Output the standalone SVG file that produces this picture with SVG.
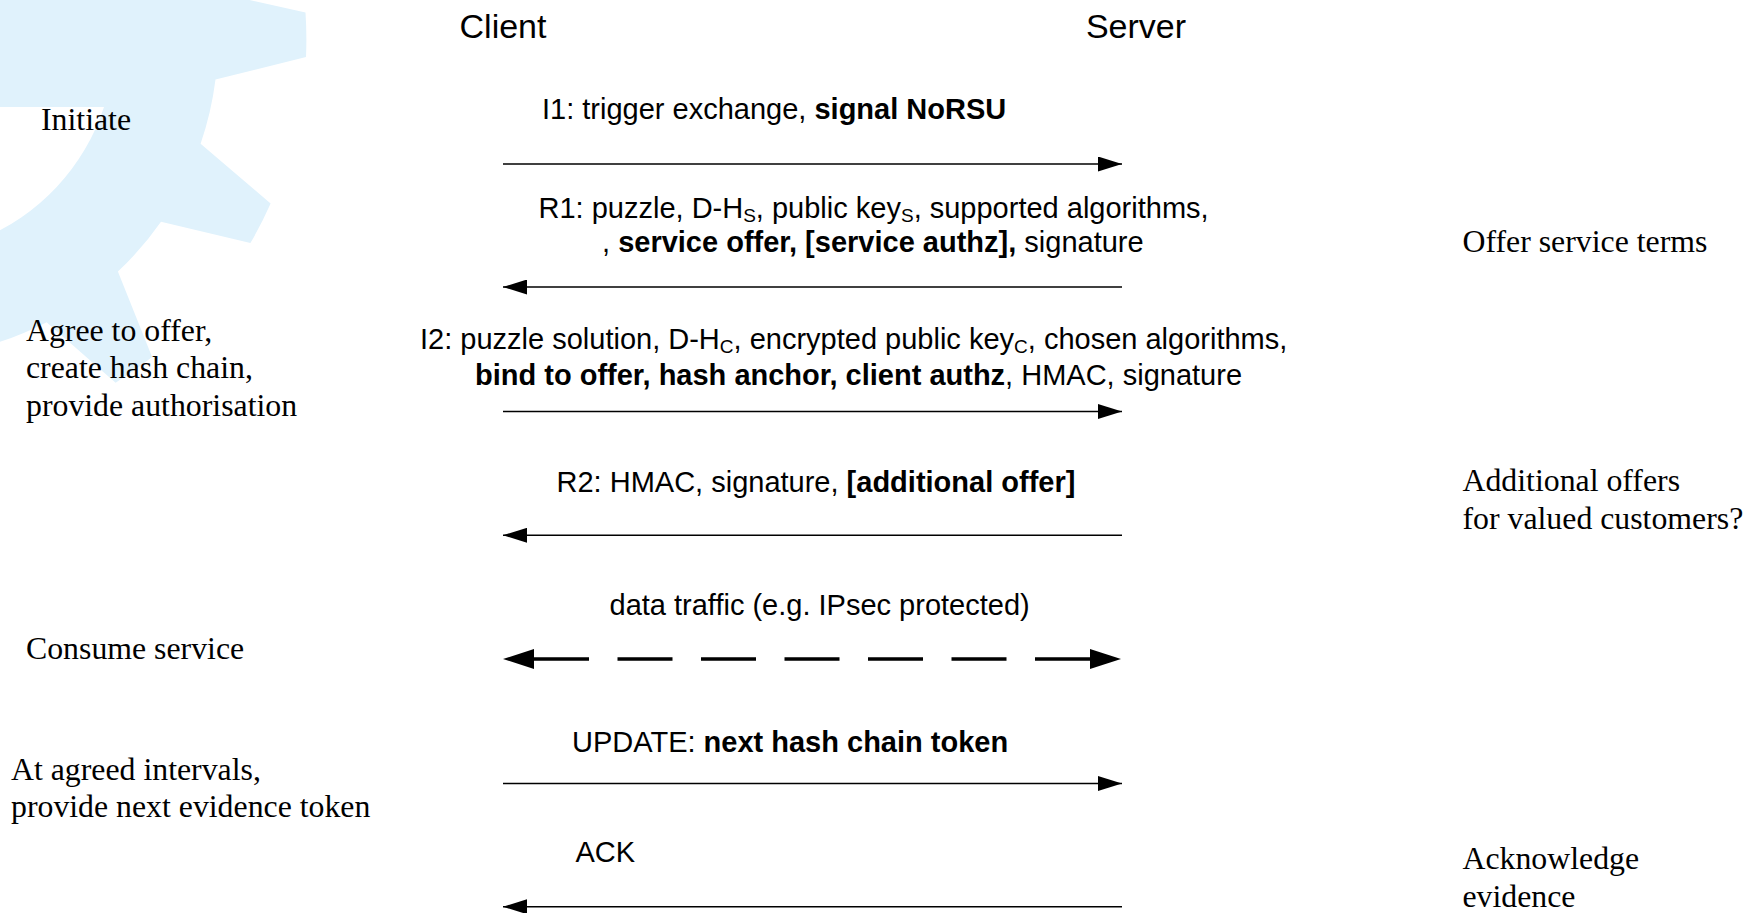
<svg xmlns="http://www.w3.org/2000/svg" width="1748" height="913" viewBox="0 0 1748 913">
  <style>
    .sans { font-family: "Liberation Sans", Arial, sans-serif; font-size: 29px; fill: #000; }
    .hdr { font-size: 34px; }
    .serif { font-family: "Liberation Serif", "Times New Roman", serif; font-size: 31.8px; fill: #000; }
    .b { font-weight: bold; }
    .sub { font-size: 19px; }
    .msg { stroke: #000; stroke-width: 1.4; fill: none; }
    .data { stroke: #000; stroke-width: 3.3; stroke-dasharray: 55 28.5; fill: none; }
  </style>
  <defs>
    <marker id="head" markerUnits="userSpaceOnUse" markerWidth="24" markerHeight="15" refX="24" refY="7.5" orient="auto">
      <path d="M0,0 L24,7.5 L0,15 Z" fill="#000"/>
    </marker>
    <marker id="bighead" markerUnits="userSpaceOnUse" markerWidth="32" markerHeight="20" refX="0" refY="10" orient="auto-start-reverse">
      <path d="M0,0 L31,10 L0,20 Z" fill="#000"/>
    </marker>
  </defs>

  <!-- pale cog in the top-left corner -->
  <g id="cog">
    <path fill="#E0F2FC" fill-rule="evenodd" d="M -20,-20 L 214.4,-7.8 L 305.5,12.4 A407,407 0 0 1 306,57 L 215.5,79.6 A318,318 0 0 1 200.6,143.8 L 270.6,203.4 A405,405 0 0 1 250.4,243.1 L 161.0,221.7 A318,318 0 0 1 117.9,271.6 L 152.1,357.0 A405,405 0 0 1 115.6,382.8 L 46.6,322.2 A318,318 0 0 1 -15.0,346.4 L -20,346.4 Z M -20,107 L 104,107 A215,215 0 0 1 -20,239.6 Z"/>
  </g>

  <!-- parties -->
  <g id="client"><text class="sans hdr" x="503" y="38" text-anchor="middle">Client</text></g>
  <g id="server"><text class="sans hdr" x="1136" y="38" text-anchor="middle">Server</text></g>

  <!-- message arrows -->
  <g id="connectors">
    <line class="msg" x1="503" y1="164" x2="1122" y2="164" marker-end="url(#head)"/>
    <line class="msg" x1="1122" y1="287" x2="503" y2="287" marker-end="url(#head)"/>
    <line class="msg" x1="503" y1="411.5" x2="1122" y2="411.5" marker-end="url(#head)"/>
    <line class="msg" x1="1122" y1="535.3" x2="503" y2="535.3" marker-end="url(#head)"/>
    <line class="data" x1="534" y1="659" x2="1090" y2="659" marker-start="url(#bighead)" marker-end="url(#bighead)"/>
    <line class="msg" x1="503" y1="783.5" x2="1122" y2="783.5" marker-end="url(#head)"/>
    <line class="msg" x1="1122" y1="906.7" x2="503" y2="906.7" marker-end="url(#head)"/>
  </g>

  <!-- message labels -->
  <g id="msg-i1">
    <text class="sans" x="542" y="118.5">I1: trigger exchange, <tspan class="b">signal NoRSU</tspan></text>
  </g>
  <g id="msg-r1">
    <text class="sans" x="538.5" y="217.5">R1: puzzle, D-H<tspan class="sub" dy="4">S</tspan><tspan dy="-4">, public key</tspan><tspan class="sub" dy="4">S</tspan><tspan dy="-4">, supported algorithms,</tspan></text>
    <text class="sans" x="602" y="252">, <tspan class="b">service offer, [service authz],</tspan> signature</text>
  </g>
  <g id="msg-i2">
    <text class="sans" x="420" y="349">I2: puzzle solution, D-H<tspan class="sub" dy="4">C</tspan><tspan dy="-4">, encrypted public key</tspan><tspan class="sub" dy="4">C</tspan><tspan dy="-4">, chosen algorithms,</tspan></text>
    <text class="sans" x="475" y="385"><tspan class="b">bind to offer, hash anchor, client authz</tspan>, HMAC, signature</text>
  </g>
  <g id="msg-r2">
    <text class="sans" x="556.5" y="492">R2: HMAC, signature, <tspan class="b">[additional offer]</tspan></text>
  </g>
  <g id="msg-data">
    <text class="sans" x="609.5" y="614.5">data traffic (e.g. IPsec protected)</text>
  </g>
  <g id="msg-update">
    <text class="sans" x="572" y="751.5">UPDATE: <tspan class="b">next hash chain token</tspan></text>
  </g>
  <g id="msg-ack">
    <text class="sans" x="575.5" y="862">ACK</text>
  </g>

  <!-- client-side notes -->
  <g id="note-initiate"><text class="serif" x="41" y="129.5">Initiate</text></g>
  <g id="note-agree">
    <text class="serif" x="26" y="340.5">Agree to offer,</text>
    <text class="serif" x="26" y="378.3">create hash chain,</text>
    <text class="serif" x="26" y="416">provide authorisation</text>
  </g>
  <g id="note-consume"><text class="serif" x="26" y="659.3">Consume service</text></g>
  <g id="note-intervals">
    <text class="serif" x="11" y="779.8">At agreed intervals,</text>
    <text class="serif" x="11" y="817">provide next evidence token</text>
  </g>

  <!-- server-side notes -->
  <g id="note-offer"><text class="serif" x="1462.5" y="252">Offer service terms</text></g>
  <g id="note-additional">
    <text class="serif" x="1462.5" y="491">Additional offers</text>
    <text class="serif" x="1462.5" y="529">for valued customers?</text>
  </g>
  <g id="note-ack">
    <text class="serif" x="1462.5" y="868.5">Acknowledge</text>
    <text class="serif" x="1462.5" y="906.5">evidence</text>
  </g>
</svg>
